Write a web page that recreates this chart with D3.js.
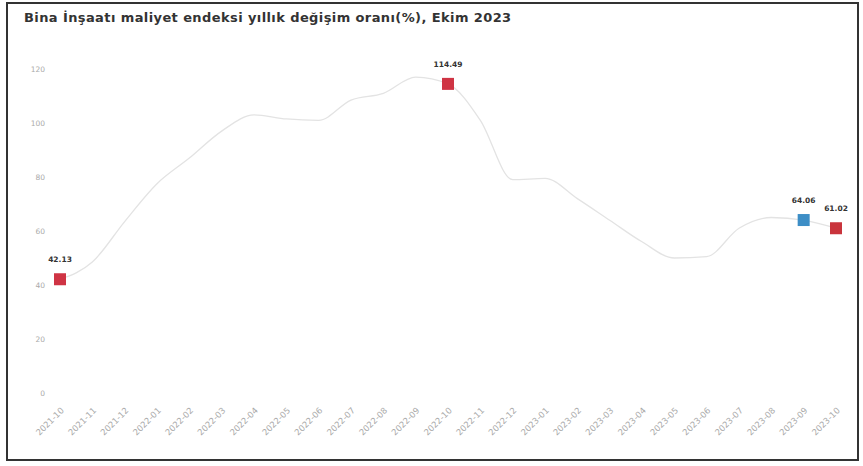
<!DOCTYPE html>
<html><head><meta charset="utf-8">
<script src="https://cdn.jsdelivr.net/npm/d3@7"></script>
<style>body{margin:0;background:#fff}svg{display:block}</style>
</head><body><svg id="c" width="863" height="466"></svg>
<script>
const months = ["2021-10","2021-11","2021-12","2022-01","2022-02","2022-03","2022-04","2022-05","2022-06","2022-07","2022-08","2022-09","2022-10","2022-11","2022-12","2023-01","2023-02","2023-03","2023-04","2023-05","2023-06","2023-07","2023-08","2023-09","2023-10"];
const values = [42.13,48.5,63.5,77.5,87,97,103,101.5,101,108.5,111,117,114.49,101,79,79.5,72,64,56,50,50.5,61,65,64.06,61.02];
const highlighted = [{i:0,color:"#cf3444"},{i:12,color:"#cf3444"},{i:23,color:"#3d8ec6"},{i:24,color:"#c9343c"}];
const yTicks = [0,20,40,60,80,100,120];
const title = "Bina İnşaatı maliyet endeksi yıllık değişim oranı(%), Ekim 2023";

const svg = d3.select("#c");
svg.append("rect").attr("x",7).attr("y",3).attr("width",851).attr("height",457)
  .attr("fill","#fff").attr("stroke","#333").attr("stroke-width",2);
svg.append("text").attr("x",24).attr("y",22).text(title)
  .attr("font-family","DejaVu Sans, sans-serif").attr("font-weight","bold")
  .attr("font-size",13).attr("letter-spacing",0.4).attr("fill","#333");

const x = d3.scalePoint().domain(months).range([60,836]);
const y = d3.scaleLinear().domain([0,120]).range([393,69]);

const yAxis = svg.append("g").attr("transform","translate(49,0)")
  .call(d3.axisLeft(y).tickValues(yTicks).tickSize(0).tickPadding(4));
yAxis.select(".domain").remove();
yAxis.selectAll("text").attr("fill","#aaa").attr("font-size",7.5).attr("font-family","DejaVu Sans, sans-serif");

const xAxis = svg.append("g").attr("transform","translate(0,402)")
  .call(d3.axisBottom(x).tickSize(0).tickPadding(0));
xAxis.select(".domain").remove();
xAxis.selectAll("text").attr("fill","#aaa").attr("font-size",8.5).attr("font-family","DejaVu Sans, sans-serif")
  .attr("text-anchor","end").attr("dy",0).attr("transform","translate(4,9) rotate(-45)");

const line = d3.line().x((d,i)=>x(months[i])).y(d=>y(d)).curve(d3.curveMonotoneX);
svg.append("path").datum(values).attr("d",line).attr("fill","none")
  .attr("stroke","#e3e3e3").attr("stroke-width",1.3);

const s = 12;
svg.selectAll("rect.m").data(highlighted).join("rect").attr("class","m")
  .attr("x",d=>x(months[d.i])-s/2).attr("y",d=>y(values[d.i])-s/2)
  .attr("width",s).attr("height",s).attr("fill",d=>d.color);
svg.selectAll("text.lbl").data(highlighted).join("text").attr("class","lbl")
  .attr("x",d=>x(months[d.i])).attr("y",d=>y(values[d.i])-17)
  .attr("text-anchor","middle").text(d=>values[d.i].toFixed(2))
  .attr("font-family","DejaVu Sans, sans-serif").attr("font-weight","bold")
  .attr("font-size",7.5).attr("fill","#333");
</script></body></html>
